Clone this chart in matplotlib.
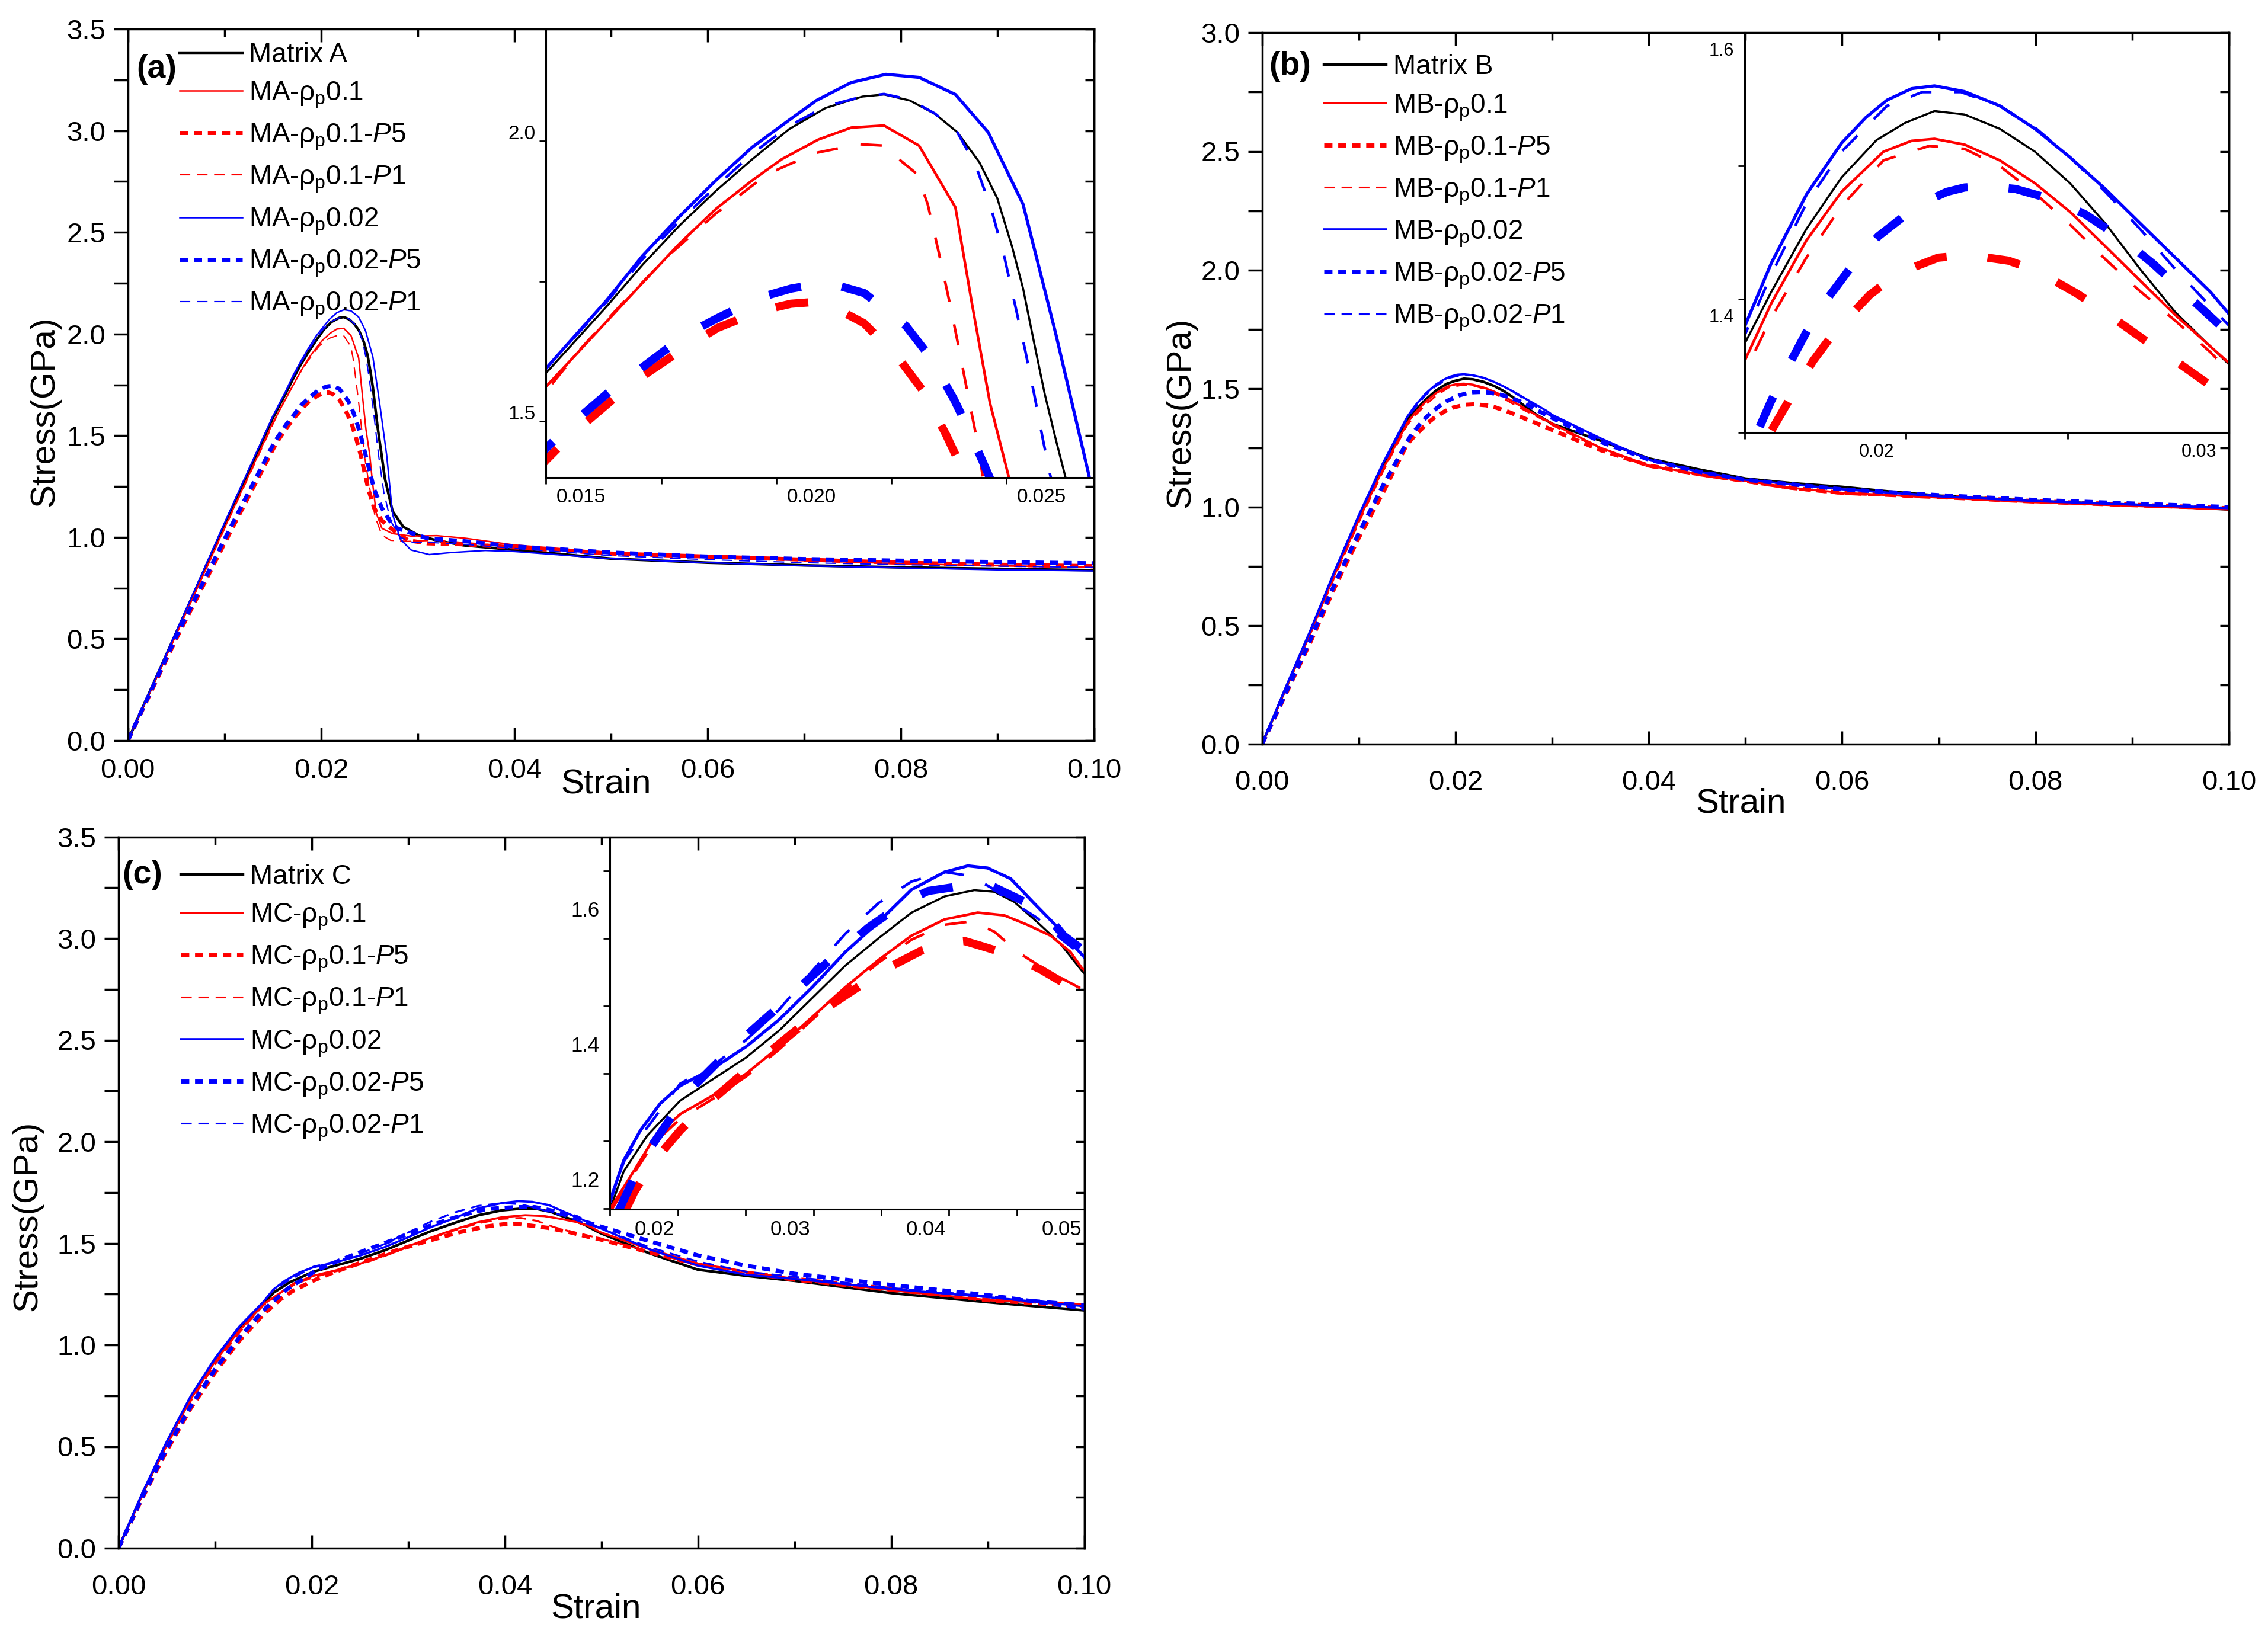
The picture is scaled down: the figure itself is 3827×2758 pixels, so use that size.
import matplotlib
matplotlib.use('Agg')
import matplotlib.pyplot as plt
from matplotlib.ticker import MultipleLocator, FormatStrFormatter
from matplotlib.transforms import ScaledTranslation

plt.rcParams['font.family'] = ['Liberation Sans', 'DejaVu Sans']
plt.rcParams['mathtext.fontset'] = 'custom'
plt.rcParams['mathtext.rm'] = 'Liberation Sans'
plt.rcParams['mathtext.it'] = 'Liberation Sans:italic'
plt.rcParams['lines.scale_dashes'] = False

W, H = 3827, 2758

# ---------------- panel (a) ----------------
strain_a_matrix = [0, 0.005, 0.010, 0.0150, 0.01631, 0.01710, 0.01790, 0.01869, 0.01948, 0.02028, 0.02107, 0.02187,
                   0.02234, 0.02290, 0.02345, 0.02393, 0.02441, 0.02480, 0.02512, 0.02536, 0.02560, 0.02583, 0.02607,
                   0.02627, 0.0266, 0.0274, 0.0285, 0.0301, 0.0321, 0.0348, 0.040, 0.050, 0.060, 0.070, 0.080, 0.090, 0.100]
stress_a_matrix = [0, 0.53, 1.06, 1.5865, 1.7047, 1.7798, 1.8496, 1.9114, 1.9678, 2.0215, 2.0591, 2.0795,
                   2.0832, 2.0725, 2.0483, 2.0161, 1.9624, 1.898, 1.812, 1.737, 1.640, 1.549, 1.468,
                   1.404, 1.29, 1.128, 1.052, 1.009, 0.983, 0.960, 0.938, 0.895, 0.875, 0.862, 0.852, 0.845, 0.838]

strain_a_p01 = [0, 0.005, 0.010, 0.0150, 0.01552, 0.01631, 0.01710, 0.01790, 0.01869, 0.01948, 0.02012, 0.02091,
                0.02163, 0.02234, 0.02310, 0.02389, 0.02425, 0.02464, 0.02504, 0.0253, 0.0257, 0.0263, 0.0274,
                0.0293, 0.032, 0.035, 0.040, 0.050, 0.060, 0.070, 0.080, 0.090, 0.100]
stress_a_p01 = [0, 0.52, 1.045, 1.5623, 1.608, 1.6778, 1.7476, 1.8174, 1.8792, 1.9302, 1.9678, 2.0027,
                2.0242, 2.0279, 1.992, 1.8819, 1.710, 1.533, 1.404, 1.28, 1.12, 1.044, 1.018,
                1.006, 1.008, 0.995, 0.962, 0.925, 0.905, 0.885, 0.870, 0.860, 0.853]

strain_a_p01_p5 = [0, 0.005, 0.010, 0.0150, 0.01552, 0.01643, 0.01710, 0.01802, 0.01873, 0.01964, 0.02032, 0.02075,
                   0.02123, 0.02191, 0.02270, 0.02321, 0.02369, 0.02401, 0.02413, 0.0249, 0.0255, 0.0263, 0.0274,
                   0.029, 0.031, 0.035, 0.040, 0.050, 0.060, 0.070, 0.080, 0.090, 0.100]
stress_a_p01_p5 = [0, 0.50, 0.97, 1.431, 1.474, 1.538, 1.581, 1.632, 1.667, 1.697, 1.710, 1.7127,
                   1.7047, 1.675, 1.608, 1.552, 1.476, 1.420, 1.399, 1.235, 1.143, 1.082, 1.037,
                   0.985, 0.970, 0.965, 0.950, 0.920, 0.905, 0.890, 0.875, 0.865, 0.858]

strain_a_p01_p1 = [0, 0.005, 0.010, 0.0150, 0.01575, 0.01671, 0.01766, 0.01869, 0.01980, 0.02083, 0.02179, 0.02234,
                   0.02266, 0.02306, 0.02329, 0.02353, 0.02377, 0.02397, 0.02417, 0.02437, 0.02448, 0.0250, 0.0256,
                   0.0263, 0.0272, 0.029, 0.032, 0.036, 0.040, 0.050, 0.060, 0.070, 0.080, 0.090, 0.100]
stress_a_p01_p1 = [0, 0.52, 1.04, 1.554, 1.6295, 1.7154, 1.796, 1.871, 1.941, 1.9785, 1.9946, 1.992,
                   1.968, 1.941, 1.887, 1.801, 1.710, 1.629, 1.544, 1.463, 1.404, 1.25, 1.10,
                   1.01, 0.985, 0.98, 0.985, 0.97, 0.955, 0.92, 0.90, 0.885, 0.87, 0.86, 0.85]

strain_a_p002 = [0, 0.005, 0.010, 0.0150, 0.01552, 0.01631, 0.01710, 0.01790, 0.01869, 0.01948, 0.02028, 0.02087,
                 0.02163, 0.02238, 0.02310, 0.02389, 0.02460, 0.02536, 0.02607, 0.02679, 0.0274, 0.0282, 0.0293,
                 0.0312, 0.0335, 0.037, 0.040, 0.050, 0.060, 0.070, 0.080, 0.090, 0.100]
stress_a_p002 = [0, 0.535, 1.07, 1.5946, 1.6429, 1.7154, 1.7959, 1.8658, 1.9302, 1.9893, 2.0376, 2.0725,
                 2.1047, 2.1192, 2.1138, 2.0832, 2.0161, 1.8872, 1.6563, 1.404, 1.113, 0.991, 0.9375,
                 0.915, 0.925, 0.935, 0.930, 0.895, 0.875, 0.860, 0.850, 0.840, 0.835]

strain_a_p002_p5 = [0, 0.005, 0.010, 0.0150, 0.01548, 0.01643, 0.01710, 0.01802, 0.01869, 0.01964, 0.02032, 0.02075,
                    0.02123, 0.02191, 0.02282, 0.02333, 0.02385, 0.02417, 0.02464, 0.0255, 0.0263, 0.0271, 0.0279,
                    0.0293, 0.031, 0.035, 0.040, 0.050, 0.060, 0.070, 0.080, 0.090, 0.100]
stress_a_p002_p5 = [0, 0.51, 0.99, 1.452, 1.490, 1.557, 1.597, 1.654, 1.683, 1.721, 1.737, 1.743,
                    1.745, 1.729, 1.670, 1.616, 1.541, 1.487, 1.399, 1.235, 1.143, 1.082, 1.044,
                    1.021, 0.995, 0.980, 0.955, 0.925, 0.905, 0.893, 0.885, 0.878, 0.872]

strain_a_p002_p1 = [0, 0.005, 0.010, 0.0150, 0.01631, 0.01710, 0.01790, 0.01869, 0.01948, 0.02028, 0.02107, 0.02187,
                    0.02234, 0.02290, 0.02345, 0.02393, 0.02433, 0.02468, 0.02496, 0.02518, 0.02540, 0.02560, 0.02579,
                    0.02595, 0.0265, 0.0272, 0.0282, 0.0295, 0.031, 0.035, 0.040, 0.050, 0.060, 0.070, 0.080, 0.090, 0.100]
stress_a_p002_p1 = [0, 0.535, 1.07, 1.5946, 1.7127, 1.790, 1.858, 1.919, 1.978, 2.027, 2.062, 2.0795,
                    2.084, 2.074, 2.049, 2.016, 1.957, 1.876, 1.791, 1.710, 1.629, 1.549, 1.468,
                    1.404, 1.22, 1.08, 1.00, 0.975, 0.975, 0.965, 0.945, 0.91, 0.89, 0.875, 0.865, 0.858, 0.852]

# ---------------- panel (b) ----------------
strain_b_matrix = [0, 0.0025, 0.005, 0.0075, 0.010, 0.0125, 0.0150, 0.01582, 0.01691, 0.01800, 0.01908, 0.01996,
                   0.02088, 0.02181, 0.02290, 0.02399, 0.02508, 0.02617, 0.02725, 0.02834, 0.02943, 0.03003, 0.035,
                   0.040, 0.045, 0.050, 0.055, 0.060, 0.065, 0.070, 0.080, 0.090, 0.100]
stress_b_matrix = [0, 0.24, 0.475, 0.72, 0.955, 1.17, 1.3667, 1.4054, 1.4527, 1.4914, 1.5194, 1.5323,
                   1.5413, 1.5387, 1.528, 1.5108, 1.4871, 1.457, 1.4226, 1.3903, 1.3645, 1.3505, 1.28,
                   1.205, 1.16, 1.12, 1.10, 1.085, 1.065, 1.048, 1.025, 1.01, 0.99]

strain_b_p01 = [0, 0.0025, 0.005, 0.0075, 0.010, 0.0125, 0.0150, 0.01582, 0.01691, 0.01800, 0.01930, 0.02017,
                0.02088, 0.02181, 0.02290, 0.02399, 0.02508, 0.02617, 0.02725, 0.02834, 0.02943, 0.03003, 0.035,
                0.040, 0.045, 0.050, 0.055, 0.060, 0.070, 0.080, 0.090, 0.100]
stress_b_p01 = [0, 0.24, 0.47, 0.715, 0.945, 1.16, 1.3538, 1.3968, 1.4441, 1.4807, 1.5108, 1.5189,
                1.5204, 1.5161, 1.5043, 1.4871, 1.4656, 1.4398, 1.414, 1.3882, 1.3645, 1.3516, 1.25,
                1.175, 1.14, 1.11, 1.08, 1.06, 1.04, 1.02, 1.005, 0.99]

strain_b_p01_p5 = [0, 0.0025, 0.005, 0.0075, 0.010, 0.0125, 0.0150, 0.01582, 0.01636, 0.01712, 0.01778, 0.01887,
                   0.01974, 0.02099, 0.02192, 0.02317, 0.02404, 0.02529, 0.02617, 0.02742, 0.02829, 0.02954, 0.03003,
                   0.035, 0.040, 0.045, 0.050, 0.055, 0.060, 0.070, 0.080, 0.090, 0.100]
stress_b_p01_p5 = [0, 0.215, 0.43, 0.66, 0.87, 1.06, 1.265, 1.3011, 1.3237, 1.3538, 1.3753, 1.4032,
                   1.4194, 1.4312, 1.4333, 1.429, 1.4215, 1.4043, 1.3903, 1.3688, 1.3548, 1.3333, 1.3247,
                   1.24, 1.175, 1.14, 1.11, 1.08, 1.06, 1.045, 1.025, 1.01, 0.995]

strain_b_p01_p1 = [0, 0.0025, 0.005, 0.0075, 0.010, 0.0125, 0.0150, 0.01582, 0.01691, 0.01800, 0.01930, 0.02072,
                   0.02181, 0.02290, 0.02399, 0.02508, 0.02617, 0.02725, 0.02834, 0.02943, 0.03003, 0.035, 0.040,
                   0.045, 0.050, 0.055, 0.060, 0.070, 0.080, 0.090, 0.100]
stress_b_p01_p1 = [0, 0.235, 0.465, 0.705, 0.935, 1.15, 1.3452, 1.386, 1.4312, 1.4699, 1.5043, 1.5151,
                   1.5129, 1.500, 1.4796, 1.456, 1.4301, 1.406, 1.3839, 1.3602, 1.3452, 1.245, 1.17,
                   1.135, 1.105, 1.075, 1.055, 1.037, 1.018, 1.003, 0.99]

strain_b_p002 = [0, 0.0025, 0.005, 0.0075, 0.010, 0.0125, 0.0150, 0.01582, 0.01691, 0.01800, 0.01876, 0.01941,
                 0.02017, 0.02088, 0.02181, 0.02290, 0.02399, 0.02508, 0.02617, 0.02725, 0.02834, 0.02943, 0.03003,
                 0.035, 0.040, 0.045, 0.050, 0.055, 0.060, 0.070, 0.080, 0.090, 0.100]
stress_b_p002 = [0, 0.245, 0.48, 0.73, 0.965, 1.185, 1.3796, 1.4269, 1.4785, 1.5172, 1.5366, 1.5495,
                 1.5581, 1.5602, 1.5559, 1.5452, 1.528, 1.5065, 1.4828, 1.457, 1.4312, 1.4054, 1.3882,
                 1.29, 1.20, 1.15, 1.115, 1.095, 1.075, 1.045, 1.025, 1.01, 0.995]

strain_b_p002_p5 = [0, 0.0025, 0.005, 0.0075, 0.010, 0.0125, 0.01527, 0.01582, 0.01625, 0.01691, 0.01745, 0.01838,
                    0.01914, 0.02039, 0.02126, 0.02181, 0.02246, 0.02339, 0.02464, 0.02557, 0.02676, 0.02764, 0.02889,
                    0.02976, 0.03003, 0.035, 0.040, 0.045, 0.050, 0.055, 0.060, 0.070, 0.080, 0.090, 0.100]
stress_b_p002_p5 = [0, 0.22, 0.44, 0.675, 0.89, 1.09, 1.2936, 1.3237, 1.3452, 1.3753, 1.3968, 1.4269,
                    1.4473, 1.471, 1.4806, 1.4839, 1.485, 1.4828, 1.4742, 1.4635, 1.4441, 1.4269, 1.399,
                    1.3796, 1.3753, 1.275, 1.20, 1.15, 1.115, 1.095, 1.075, 1.05, 1.03, 1.015, 1.00]

strain_b_p002_p1 = [0, 0.0025, 0.005, 0.0075, 0.010, 0.0125, 0.0150, 0.01582, 0.01691, 0.01800, 0.01941, 0.02050,
                    0.02170, 0.02290, 0.02399, 0.02508, 0.02617, 0.02725, 0.02834, 0.02943, 0.03003, 0.035, 0.040,
                    0.045, 0.050, 0.055, 0.060, 0.070, 0.080, 0.090, 0.100]
stress_b_p002_p1 = [0, 0.24, 0.475, 0.725, 0.96, 1.175, 1.373, 1.4183, 1.472, 1.5108, 1.5452, 1.5555,
                    1.5555, 1.5452, 1.529, 1.5065, 1.4807, 1.4527, 1.4226, 1.3946, 1.3796, 1.285, 1.20,
                    1.15, 1.115, 1.095, 1.075, 1.048, 1.027, 1.012, 0.997]

# ---------------- panel (c) ----------------
strain_c_matrix = [0, 0.0025, 0.005, 0.0075, 0.010, 0.0125, 0.0150, 0.01602, 0.01773, 0.02017, 0.02261, 0.02505,
                   0.02749, 0.02993, 0.03237, 0.03480, 0.03724, 0.03968, 0.04188, 0.04334, 0.04480, 0.04651, 0.04822,
                   0.04980, 0.055, 0.060, 0.065, 0.070, 0.080, 0.090, 0.100]
stress_c_matrix = [0, 0.27, 0.515, 0.74, 0.925, 1.075, 1.20, 1.256, 1.308, 1.36, 1.392, 1.424,
                   1.464, 1.512, 1.56, 1.60, 1.638, 1.662, 1.6712, 1.6688, 1.654, 1.624, 1.592,
                   1.552, 1.45, 1.37, 1.34, 1.315, 1.255, 1.21, 1.17]

strain_c_p01 = [0, 0.0025, 0.005, 0.0075, 0.010, 0.0125, 0.0150, 0.01651, 0.01822, 0.02017, 0.02261, 0.02505,
                0.02749, 0.02993, 0.03237, 0.03480, 0.03724, 0.03968, 0.04212, 0.04407, 0.04578, 0.04749, 0.04895,
                0.04980, 0.055, 0.060, 0.065, 0.070, 0.080, 0.090, 0.100]
stress_c_p01 = [0, 0.27, 0.515, 0.735, 0.92, 1.07, 1.20, 1.248, 1.304, 1.34, 1.368, 1.40,
                1.44, 1.484, 1.528, 1.568, 1.604, 1.628, 1.638, 1.634, 1.62, 1.604, 1.58,
                1.556, 1.47, 1.40, 1.36, 1.325, 1.27, 1.22, 1.20]

strain_c_p01_p5 = [0, 0.0025, 0.005, 0.0075, 0.010, 0.0125, 0.0150, 0.01676, 0.01798, 0.02017, 0.02188, 0.02456,
                   0.02627, 0.02895, 0.03090, 0.03359, 0.03529, 0.03798, 0.03993, 0.04115, 0.04249, 0.04444, 0.04676,
                   0.04895, 0.04980, 0.055, 0.060, 0.065, 0.070, 0.080, 0.090, 0.100]
stress_c_p01_p5 = [0, 0.25, 0.48, 0.69, 0.865, 1.02, 1.15, 1.224, 1.264, 1.316, 1.35, 1.396,
                   1.424, 1.468, 1.496, 1.532, 1.554, 1.582, 1.594, 1.596, 1.588, 1.576, 1.554,
                   1.528, 1.52, 1.455, 1.395, 1.355, 1.325, 1.275, 1.22, 1.19]

strain_c_p01_p1 = [0, 0.0025, 0.005, 0.0075, 0.010, 0.0125, 0.0150, 0.01651, 0.01822, 0.02017, 0.02261, 0.02505,
                   0.02749, 0.02993, 0.03237, 0.03480, 0.03724, 0.03968, 0.04163, 0.04334, 0.04505, 0.04700, 0.04980,
                   0.055, 0.060, 0.065, 0.070, 0.080, 0.090, 0.100]
stress_c_p01_p1 = [0, 0.265, 0.505, 0.725, 0.905, 1.06, 1.195, 1.245, 1.297, 1.333, 1.363, 1.396,
                   1.436, 1.48, 1.524, 1.564, 1.598, 1.62, 1.625, 1.61, 1.58, 1.555, 1.525,
                   1.46, 1.39, 1.35, 1.315, 1.265, 1.22, 1.195]

strain_c_p002 = [0, 0.0025, 0.005, 0.0075, 0.010, 0.0125, 0.0150, 0.01602, 0.01724, 0.01871, 0.02017, 0.02261,
                 0.02505, 0.02749, 0.02993, 0.03237, 0.03480, 0.03724, 0.03968, 0.04139, 0.04285, 0.04456, 0.04627,
                 0.04822, 0.04980, 0.055, 0.060, 0.065, 0.070, 0.080, 0.090, 0.100]
stress_c_p002 = [0, 0.275, 0.525, 0.75, 0.935, 1.09, 1.212, 1.272, 1.316, 1.356, 1.382, 1.408,
                 1.44, 1.48, 1.528, 1.58, 1.624, 1.672, 1.698, 1.7072, 1.704, 1.688, 1.652,
                 1.612, 1.576, 1.47, 1.39, 1.345, 1.325, 1.275, 1.235, 1.19]

strain_c_p002_p5 = [0, 0.0025, 0.005, 0.0075, 0.010, 0.0125, 0.0150, 0.01663, 0.01749, 0.01932, 0.02041, 0.02310,
                    0.02480, 0.02773, 0.02944, 0.03212, 0.03407, 0.03676, 0.03846, 0.04115, 0.04310, 0.04578, 0.04749,
                    0.04846, 0.04980, 0.055, 0.060, 0.065, 0.070, 0.080, 0.090, 0.100]
stress_c_p002_p5 = [0, 0.255, 0.49, 0.70, 0.88, 1.035, 1.17, 1.24, 1.276, 1.33, 1.366, 1.42,
                    1.452, 1.504, 1.536, 1.584, 1.616, 1.654, 1.67, 1.678, 1.678, 1.652, 1.628,
                    1.604, 1.584, 1.51, 1.44, 1.39, 1.35, 1.295, 1.245, 1.18]

strain_c_p002_p1 = [0, 0.0025, 0.005, 0.0075, 0.010, 0.0125, 0.0150, 0.01602, 0.01773, 0.02017, 0.02261, 0.02505,
                    0.02749, 0.02993, 0.03237, 0.03480, 0.03724, 0.03968, 0.04163, 0.04310, 0.04456, 0.04651, 0.04822,
                    0.04980, 0.055, 0.060, 0.065, 0.070, 0.080, 0.090, 0.100]
stress_c_p002_p1 = [0, 0.275, 0.525, 0.75, 0.93, 1.085, 1.21, 1.27, 1.32, 1.385, 1.412, 1.45,
                    1.495, 1.552, 1.607, 1.652, 1.684, 1.698, 1.692, 1.675, 1.655, 1.63, 1.60,
                    1.575, 1.48, 1.41, 1.36, 1.335, 1.28, 1.24, 1.20]

keys = ['matrix', 'p01', 'p01_p5', 'p01_p1', 'p002', 'p002_p5', 'p002_p1']
colors = {'matrix': 'black', 'p01': '#ff0000', 'p01_p5': '#ff0000', 'p01_p1': '#ff0000',
          'p002': '#0000ff', 'p002_p5': '#0000ff', 'p002_p1': '#0000ff'}


def main_style(k, thin):
    if k == 'matrix':
        return dict(color='black', lw=3.2)
    if k.endswith('_p5'):
        return dict(color=colors[k], lw=5, dashes=(10, 7))
    if k.endswith('_p1'):
        return dict(color=colors[k], lw=thin * 0.85, dashes=(13, 8))
    return dict(color=colors[k], lw=thin)


inset_style = {
    'matrix': dict(color='black', lw=2.5),
    'p01': dict(color='#ff0000', lw=3.2),
    'p01_p5': dict(color='#ff0000', lw=10, dashes=(40, 50)),
    'p01_p1': dict(color='#ff0000', lw=3.2, dashes=(26, 28)),
    'p002': dict(color='#0000ff', lw=3.8),
    'p002_p5': dict(color='#0000ff', lw=10, dashes=(40, 50)),
    'p002_p1': dict(color='#0000ff', lw=3.2, dashes=(26, 28)),
}


def labels_for(prefix, matrix_name):
    return [matrix_name,
            prefix + r'-ρ$_\mathrm{p}$0.1',
            prefix + r'-ρ$_\mathrm{p}$0.1-$\mathit{P}$5',
            prefix + r'-ρ$_\mathrm{p}$0.1-$\mathit{P}$1',
            prefix + r'-ρ$_\mathrm{p}$0.02',
            prefix + r'-ρ$_\mathrm{p}$0.02-$\mathit{P}$5',
            prefix + r'-ρ$_\mathrm{p}$0.02-$\mathit{P}$1']


def rect(l, t, r, b):
    return [l / W, 1 - b / H, (r - l) / W, (b - t) / H]


def shift_labels(labels, dx, dy):
    off = ScaledTranslation(dx / 100.0, -dy / 100.0, fig.dpi_scale_trans)
    for lab in labels:
        lab.set_transform(lab.get_transform() + off)


fig = plt.figure(figsize=(W / 100, H / 100), dpi=100)


def panel(main_px, inset_px, data, labels, ymax, thin, tag, tag_pos, leg_pos, xpad, xlab_pos, ylab_pos,
          in_xlim, in_ylim, in_xmaj, in_ymaj, in_xfmt, in_fs, in_xshift, in_yshift):
    ax = fig.add_axes(rect(*main_px))
    handles = []
    for k, lab in zip(keys, labels):
        x, y = data[k]
        ln, = ax.plot(x, y, label=lab, **main_style(k, thin))
        handles.append(ln)
    ax.set_xlim(0, 0.10)
    ax.set_ylim(0, ymax)
    ax.xaxis.set_major_locator(MultipleLocator(0.02))
    ax.xaxis.set_minor_locator(MultipleLocator(0.01))
    ax.yaxis.set_major_locator(MultipleLocator(0.5))
    ax.yaxis.set_minor_locator(MultipleLocator(0.25))
    ax.xaxis.set_major_formatter(FormatStrFormatter('%.2f'))
    ax.yaxis.set_major_formatter(FormatStrFormatter('%.1f'))
    ax.tick_params(axis='x', which='both', direction='in', top=True, width=2.5, labelsize=34, pad=xpad)
    ax.tick_params(axis='x', which='major', length=16)
    ax.tick_params(axis='x', which='minor', length=9)
    ax.tick_params(axis='y', which='both', direction='out', length=17, width=2.5, labelsize=34, pad=10)
    sec = ax.secondary_yaxis('right')
    sec.yaxis.set_major_locator(MultipleLocator(0.5))
    sec.yaxis.set_minor_locator(MultipleLocator(0.25))
    sec.tick_params(which='both', direction='in', length=11, width=2.5, labelright=False)
    sec.spines['right'].set_linewidth(2.5)
    for s in ax.spines.values():
        s.set_linewidth(2.5)
    ax.text(xlab_pos[0], xlab_pos[1], 'Strain', transform=ax.transAxes, ha='center', va='center', fontsize=42)
    ax.text(ylab_pos[0], ylab_pos[1], 'Stress(GPa)', transform=ax.transAxes, ha='center', va='center',
            fontsize=42, rotation=90)
    ax.text(tag_pos[0], tag_pos[1], tag, transform=ax.transAxes, ha='center', va='center',
            fontsize=40, fontweight='bold')
    ax.legend(handles=handles, loc='upper left', bbox_to_anchor=leg_pos, frameon=False, fontsize=33,
              borderpad=0, borderaxespad=0, handlelength=2.3, handletextpad=0.25, labelspacing=0.45)

    ins = fig.add_axes(rect(*inset_px))
    ins.set_facecolor('none')
    for k in keys:
        x, y = data[k]
        ins.plot(x, y, **inset_style[k])
    ins.set_xlim(*in_xlim)
    ins.set_ylim(*in_ylim)
    ins.xaxis.set_major_locator(MultipleLocator(in_xmaj))
    ins.xaxis.set_minor_locator(MultipleLocator(in_xmaj / 2))
    ins.yaxis.set_major_locator(MultipleLocator(in_ymaj))
    ins.yaxis.set_minor_locator(MultipleLocator(in_ymaj / 2))
    ins.xaxis.set_major_formatter(FormatStrFormatter(in_xfmt))
    ins.yaxis.set_major_formatter(FormatStrFormatter('%.1f'))
    ins.tick_params(which='both', direction='out', length=8, width=2, labelsize=in_fs, pad=5)
    for s in ins.spines.values():
        s.set_linewidth(2.2)
    shift_labels(ins.get_xticklabels(), in_xshift, 0)
    shift_labels(ins.get_yticklabels(), 0, in_yshift)
    return ax, ins


data_a = {'matrix': (strain_a_matrix, stress_a_matrix), 'p01': (strain_a_p01, stress_a_p01),
          'p01_p5': (strain_a_p01_p5, stress_a_p01_p5), 'p01_p1': (strain_a_p01_p1, stress_a_p01_p1),
          'p002': (strain_a_p002, stress_a_p002), 'p002_p5': (strain_a_p002_p5, stress_a_p002_p5),
          'p002_p1': (strain_a_p002_p1, stress_a_p002_p1)}
data_b = {'matrix': (strain_b_matrix, stress_b_matrix), 'p01': (strain_b_p01, stress_b_p01),
          'p01_p5': (strain_b_p01_p5, stress_b_p01_p5), 'p01_p1': (strain_b_p01_p1, stress_b_p01_p1),
          'p002': (strain_b_p002, stress_b_p002), 'p002_p5': (strain_b_p002_p5, stress_b_p002_p5),
          'p002_p1': (strain_b_p002_p1, stress_b_p002_p1)}
data_c = {'matrix': (strain_c_matrix, stress_c_matrix), 'p01': (strain_c_p01, stress_c_p01),
          'p01_p5': (strain_c_p01_p5, stress_c_p01_p5), 'p01_p1': (strain_c_p01_p1, stress_c_p01_p1),
          'p002': (strain_c_p002, stress_c_p002), 'p002_p5': (strain_c_p002_p5, stress_c_p002_p5),
          'p002_p1': (strain_c_p002_p1, stress_c_p002_p1)}

panel((215.7, 49, 1846, 1250), (921.4, 49, 1846, 806), data_a, labels_for('MA', 'Matrix A'), 3.5, 1.8,
      '(a)', (0.0296, 0.943), (0.0536, 0.982), 21, (0.4947, -0.0612), (-0.0863, 0.463),
      (0.015, 0.0269), (1.4, 2.2), 0.005, 0.5, '%.3f', 24, 59, -15)

panel((2129.6, 55.4, 3761, 1256), (2944, 55.4, 3761, 730), data_b, labels_for('MB', 'Matrix B'), 3.0, 2.6,
      '(b)', (0.029, 0.953), (0.0638, 0.970), 31, (0.495, -0.084), (-0.0844, 0.466),
      (0.015, 0.030), (1.3, 1.6), 0.01, 0.2, '%.2f', 22, -50, 27)

panel((200, 1412.5, 1829.6, 2613), (1029.4, 1412.5, 1830, 2040.5), data_c, labels_for('MC', 'Matrix C'), 3.5, 2.6,
      '(c)', (0.0245, 0.9465), (0.0644, 0.962), 32, (0.4944, -0.0856), (-0.0945, 0.467),
      (0.015, 0.05), (1.2, 1.75), 0.01, 0.2, '%.2f', 25, -39, -50)

fig.savefig('out.png', dpi=100, facecolor='white')
